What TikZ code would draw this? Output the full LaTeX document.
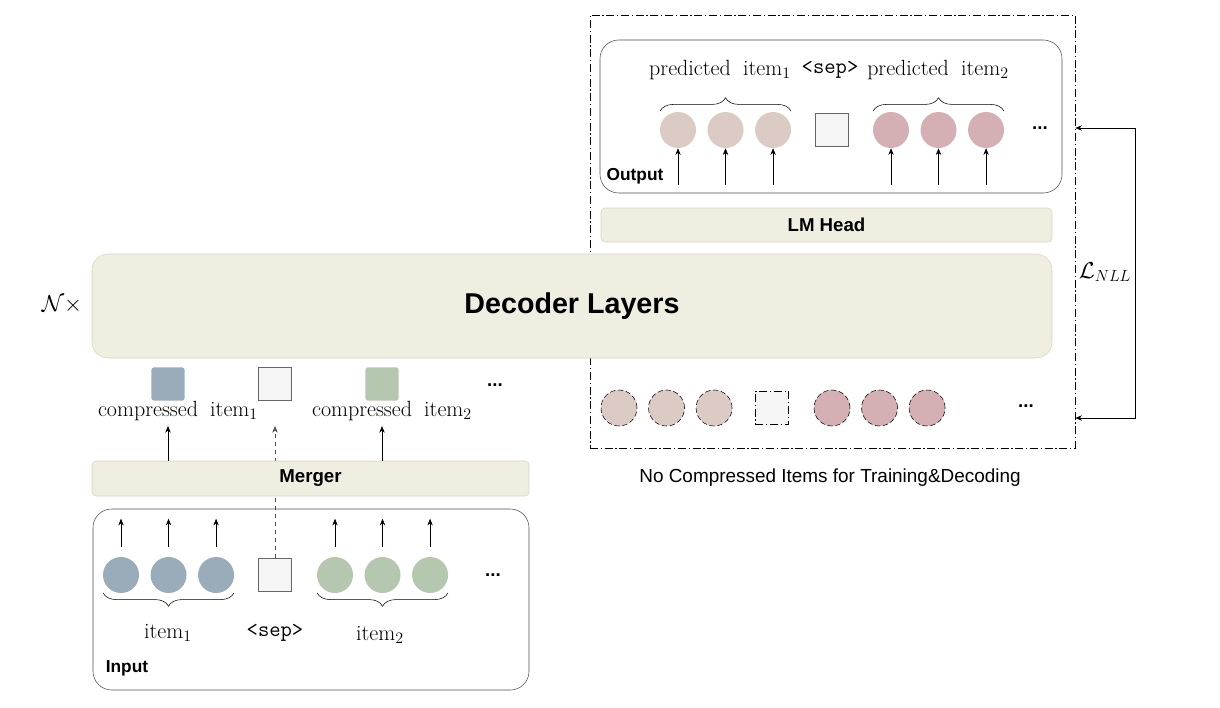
\documentclass[tikz,border=0pt]{standalone}
\usepackage{fontspec}
\setsansfont{Liberation Sans}
\usetikzlibrary{positioning,decorations.pathreplacing,calc,arrows.meta}
\definecolor{beige}{HTML}{F0EDE1}
\definecolor{barline}{HTML}{D9D3C2}
\definecolor{bluetok}{HTML}{9AABB9}
\definecolor{greentok}{HTML}{B5C7AE}
\definecolor{paletok}{HTML}{DBCBC4}
\definecolor{pinktok}{HTML}{D4AFB4}
\definecolor{sepfill}{HTML}{F5F5F5}

\begin{document}
\begin{tikzpicture}[x=0.75pt,y=-0.75pt,>={Stealth[length=5pt,width=4pt]},
		bar/.style={draw=barline, fill=beige, rounded corners=3pt, inner sep=0pt, font=\sffamily\bfseries\fontsize{14}{16}\selectfont},
		panel/.style={draw=black!70, rounded corners=14pt, inner sep=0pt},
		tok/.style={circle, minimum size=27pt, inner sep=0pt},
		ghost/.style={tok, draw, dash pattern=on 4pt off 2pt},
		sep/.style={rectangle, draw=black!60, fill=sepfill, minimum size=25pt, inner sep=0pt},
		comp/.style={rectangle, rounded corners=2pt, minimum size=25pt, inner sep=0pt},
		tag/.style={font=\sffamily\bfseries\fontsize{13}{15}\selectfont},
		word/.style={font=\fontsize{16.5}{18}\selectfont, inner sep=1pt},
		dots/.style={font=\sffamily\bfseries\fontsize{14}{16}\selectfont},
		brace/.style={decorate, decoration={brace, amplitude=10pt}},
		dashdot/.style={draw, dash pattern=on 6pt off 2pt on 1pt off 2pt}
	]
	\useasboundingbox (0,0) rectangle (1220,707);
	% right side: output during training
	\node[dashdot, minimum width=363.75pt, minimum height=324.75pt] (nocomp) at (832.5,231.5) {};
	\node[panel, minimum width=346.5pt, minimum height=114.75pt] (outbox) at (831,116.5) {};
	\node[tag] (outlabel) at (635,176) {Output};
	\node[tok, fill=paletok] (o1) at (678,130) {};
	\node[tok, fill=paletok] (o2) [right=8.25pt of o1] {};
	\node[tok, fill=paletok] (o3) [right=8.25pt of o2] {};
	\node[sep] (osep) at (832,130) {};
	\node[tok, fill=pinktok] (o4) at (891,130) {};
	\node[tok, fill=pinktok] (o5) [right=8.25pt of o4] {};
	\node[tok, fill=pinktok] (o6) [right=8.25pt of o5] {};
	\node[dots] (odots) at (1040,128) {...};
	\draw[brace] ($(o1.north west)+(-5,-6)$) -- ($(o3.north east)+(5,-6)$);
	\draw[brace] ($(o4.north west)+(-5,-6)$) -- ($(o6.north east)+(5,-6)$);
	\node[word] (opred1) at (720,70) {predicted\;\;item$_1$};
	\node[word] (osepword) at (830,70) {\texttt{<sep>}};
	\node[word] (opred2) at (938,70) {predicted\;\;item$_2$};
	\foreach \t in {o1,o2,o3,o4,o5,o6}
		\draw[<-] (\t.south) -- ++(0,37);
	\node[bar, minimum width=338.25pt, minimum height=25.5pt] (lmhead) at (826.5,225) {LM Head};
	% decoder
	\node[bar, rounded corners=12pt, minimum width=720pt, minimum height=78pt, font=\sffamily\bfseries\fontsize{21.5}{24}\selectfont] (decoder) at (572,306) {Decoder Layers};
	\node[word] (times) at (62,305) {$\mathcal{N}\times$};
	% ghost tokens
	\node[ghost, fill=paletok] (g1) at (619,408) {};
	\node[ghost, fill=paletok] (g2) [right=8.25pt of g1] {};
	\node[ghost, fill=paletok] (g3) [right=8.25pt of g2] {};
	\node[sep, draw=black, dashdot] (gsep) at (772,408) {};
	\node[ghost, fill=pinktok] (g4) at (832,408) {};
	\node[ghost, fill=pinktok] (g5) [right=8.25pt of g4] {};
	\node[ghost, fill=pinktok] (g6) [right=8.25pt of g5] {};
	\node[dots] (gdots) at (1026,406) {...};
	\node[font=\sffamily\fontsize{14.2}{16}\selectfont] (nocomplabel) at (830,478) {No Compressed Items for Training\&Decoding};
	% loss loop
	\coordinate (looptop) at (1135,128);
	\coordinate (loopbot) at (1135,418);
	\draw[->] (looptop) -- (nocomp.east |- looptop);
	\draw[->] (looptop) -- (loopbot) -- (nocomp.east |- loopbot);
	\node[word] (loss) at (1105,272) {$\mathcal{L}_{NLL}$};
	% left side: input
	\node[panel, minimum width=327pt, minimum height=135.75pt] (inbox) at (311,599.5) {};
	\node[tag] (inlabel) at (127,668) {Input};
	\node[tok, fill=bluetok] (i1) at (121,575) {};
	\node[tok, fill=bluetok] (i2) [right=8.25pt of i1] {};
	\node[tok, fill=bluetok] (i3) [right=8.25pt of i2] {};
	\node[sep] (isep) at (275,575) {};
	\node[tok, fill=greentok] (i4) at (335,575) {};
	\node[tok, fill=greentok] (i5) [right=8.25pt of i4] {};
	\node[tok, fill=greentok] (i6) [right=8.25pt of i5] {};
	\node[dots] (idots) at (493,575) {...};
	\draw[brace, decoration={mirror}] ($(i1.south west)+(-5,5)$) -- ($(i3.south east)+(5,5)$);
	\draw[brace, decoration={mirror}] ($(i4.south west)+(-5,5)$) -- ($(i6.south east)+(5,5)$);
	\node[word] (item1) at (168,633) {item$_1$};
	\node[word] (sepword) at (275,633) {\texttt{<sep>}};
	\node[word] (item2) at (380,635) {item$_2$};
	\foreach \t in {i1,i2,i3,i4,i5,i6}
		\draw[->] (\t.north) ++(0,-10) -- ++(0,-28);
	% merger and compressed items
	\node[comp, fill=bluetok] (c1) at (168,384) {};
	\node[sep] (csep) at (275,384) {};
	\node[comp, fill=greentok] (c2) at (382,384) {};
	\node[dots] (cdots) at (495,385) {...};
	\node[word] (comp1) at (178,411) {compressed\;\;item$_1$};
	\node[word] (comp2) at (392,411) {compressed\;\;item$_2$};
	\draw[->, dashed, black!70] (isep.north) -- (275,426);
	\node[bar, minimum width=327.75pt, minimum height=26.25pt] (merger) at (310.5,478.5) {Merger};
	\draw[->] (merger.north -| c1) -- (168,426);
	\draw[->] (merger.north -| c2) -- (382,426);
\end{tikzpicture}
\end{document}
